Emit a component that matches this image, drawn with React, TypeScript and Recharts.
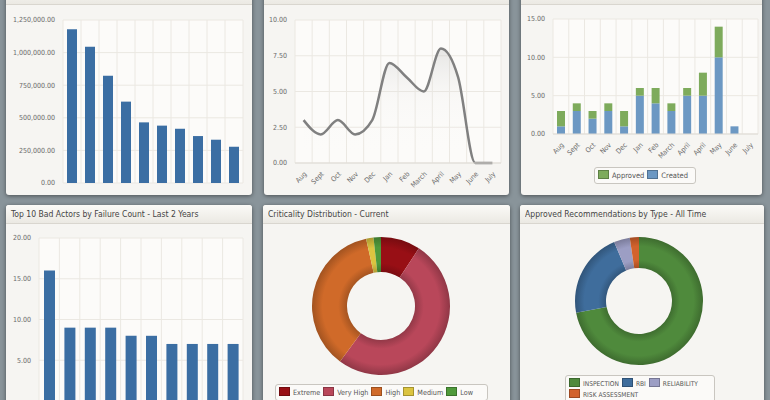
import React from "react";
import {
  Area,
  AreaChart,
  Bar,
  BarChart,
  CartesianGrid,
  Cell,
  Pie,
  PieChart,
  XAxis,
  YAxis,
} from "recharts";

// top-left: cost of bad actors
const costAssets = ["P-101", "C-204", "E-310", "P-115", "V-402", "T-220", "P-330", "C-118", "E-509", "V-211"];
const costValues = [1180000, 1045000, 823000, 624000, 465000, 440000, 416000, 360000, 332000, 278000];
const costTicks = [0, 250000, 500000, 750000, 1000000, 1250000];

// top-middle: projected completion
const months = ["Aug", "Sept", "Oct", "Nov", "Dec", "Jan", "Feb", "March", "April", "May", "June", "July"];
const projected = [3, 2, 3, 2, 3, 7, 6, 5, 8, 6, 0, 0];
const projectedTicks = [0, 2.5, 5, 7.5, 10];

// top-right: created vs approved
const recMonths = ["Aug", "Sept", "Oct", "Nov", "Dec", "Jan", "Feb", "March", "April", "April", "May", "June", "July"];
const created = [1, 3, 2, 3, 1, 5, 4, 3, 5, 5, 10, 1, 0];
const approved = [2, 1, 1, 1, 2, 1, 2, 1, 1, 3, 4, 0, 0];
const recTicks = [0, 5, 10, 15];

// bottom-left: failure count
const failureAssets = ["P-101", "C-204", "P-115", "E-310", "V-402", "T-220", "P-330", "C-118", "E-509", "V-211"];
const failureCounts = [16, 9, 9, 9, 8, 8, 7, 7, 7, 7];
const failureTicks = [0, 5, 10, 15, 20];

// bottom-middle: criticality
const criticalityLabels = ["Extreme", "Very High", "High", "Medium", "Low"];
const criticalityCounts = [16, 88, 63, 3, 3];
const criticalityColors = ["#980f15", "#b9475a", "#d06a29", "#dbc440", "#4f9a3b"];

// bottom-right: recommendation types
const typeLabels = ["INSPECTION", "RBI", "RELIABILITY", "RISK ASSESSMENT"];
const typeCounts = [250, 75, 14, 8];
const typeColors = ["#4f8a3c", "#3f6d9c", "#9c9ec4", "#d2622c"];

const costData = costAssets.map((name, i) => ({ name, value: costValues[i] }));
const projectedData = months.map((name, i) => ({ name, value: projected[i] }));
const recData = recMonths.map((name, i) => ({ name, created: created[i], approved: approved[i] }));
const failureData = failureAssets.map((name, i) => ({ name, value: failureCounts[i] }));
const criticalityData = criticalityLabels.map((name, i) => ({ name, value: criticalityCounts[i] }));
const typeData = typeLabels.map((name, i) => ({ name, value: typeCounts[i] }));

const FONT = '"DejaVu Sans Condensed", "DejaVu Sans", sans-serif';
const BAR_BLUE = "#3b6ea3";
const CREATED_BLUE = "#6c98c3";
const APPROVED_GREEN = "#7eab5c";
const GRID = "#ebe8e2";
const tick = { fill: "#6a6a6a", fontSize: 7 };

function money(v: number) {
  return v.toLocaleString("en-US", { minimumFractionDigits: 2, maximumFractionDigits: 2 });
}

function fixed(v: number) {
  return v.toFixed(2);
}

function darken(hex: string, k: number) {
  const n = parseInt(hex.slice(1), 16);
  const c = [(n >> 16) & 255, (n >> 8) & 255, n & 255].map((x) => Math.round(x * k));
  return `rgb(${c[0]},${c[1]},${c[2]})`;
}

// vertical grid lines sit between categories, not on them
const bandLines = (n: number) => (props: any) => {
  const o = props.offset;
  return Array.from({ length: n + 1 }, (_, i) => o.left + (o.width * i) / n);
};

// ring shading: darker at the inner and outer rims
function RingGradients({ prefix, colors, cx, cy, r, inner }: { prefix: string; colors: string[]; cx: number; cy: number; r: number; inner: number }) {
  const f = inner / r;
  return (
    <defs>
      {colors.map((c, i) => (
        <radialGradient key={i} id={`${prefix}${i}`} gradientUnits="userSpaceOnUse" cx={cx} cy={cy} r={r}>
          <stop offset={f} stopColor={darken(c, 0.8)} />
          <stop offset={f + (1 - f) * 0.25} stopColor={c} />
          <stop offset={f + (1 - f) * 0.7} stopColor={c} />
          <stop offset={1} stopColor={darken(c, 0.78)} />
        </radialGradient>
      ))}
    </defs>
  );
}

function Panel({ left, top, width, height, title }: { left: number; top: number; width: number; height: number; title: string }) {
  return (
    <div
      style={{
        position: "absolute",
        left,
        top,
        width,
        height,
        background: "#f6f5f2",
        borderRadius: 3,
        boxShadow: "0 1px 4px rgba(0,0,0,0.45)",
        overflow: "hidden",
      }}
    >
      <div
        style={{
          height: 18,
          lineHeight: "18px",
          padding: "0 0 0 5px",
          fontSize: 9.5,
          color: "#444",
          background: "linear-gradient(#fbfaf7, #ebe9e3)",
          borderBottom: "1px solid #d9d6cf",
          whiteSpace: "nowrap",
        }}
      >
        <span style={{ display: "inline-block", transform: "scaleX(0.9)", transformOrigin: "left center" }}>{title}</span>
      </div>
    </div>
  );
}

function Swatch({ color }: { color: string }) {
  return (
    <span
      style={{
        display: "inline-block",
        width: 9,
        height: 7,
        marginRight: 3,
        background: color,
        border: "1px solid rgba(0,0,0,0.25)",
        verticalAlign: "-1px",
      }}
    />
  );
}

function LegendBox({ left, top, width, items, colors, size, wrap }: { left: number; top: number; width: number; items: string[]; colors: string[]; size: number; wrap?: boolean }) {
  return (
    <div
      style={{
        position: "absolute",
        left,
        top,
        width,
        padding: "2px 3px",
        boxSizing: "border-box",
        border: "1px solid #c9c6c0",
        borderRadius: 3,
        background: "#fbfaf8",
        fontSize: size,
        color: "#555",
        lineHeight: "10px",
        whiteSpace: wrap ? "normal" : "nowrap",
        overflow: "hidden",
      }}
    >
      {items.map((label, i) => (
        <span key={label} style={{ marginRight: 3, whiteSpace: "nowrap", display: "inline-block" }}>
          <Swatch color={colors[i]} />
          {label}
        </span>
      ))}
    </div>
  );
}

const CRIT_W = 236;
const CRIT_H = 164;
const TYPE_W = 238;
const TYPE_H = 154;

export default function App() {
  return (
    <div
      style={{
        position: "absolute",
        left: 0,
        top: 0,
        width: 770,
        height: 400,
        overflow: "hidden",
        background: "#89949a",
        fontFamily: FONT,
      }}
    >
      <Panel left={6} top={-14} width={246} height={209} title="Top 10 Bad Actors by Total Cost - Last 2 Years" />
      <Panel left={264} top={-14} width={245} height={209} title="Recommendations Projected Completion - 12 Months" />
      <Panel left={521} top={-14} width={241} height={209} title="Recommendations Created and Approved - 12 Months" />
      <Panel left={6} top={205} width={246} height={210} title="Top 10 Bad Actors by Failure Count - Last 2 Years" />
      <Panel left={263} top={205} width={247} height={210} title="Criticality Distribution - Current" />
      <Panel left={520} top={205} width={244} height={210} title="Approved Recommendations by Type - All Time" />

      <div style={{ position: "absolute", left: 6, top: 5 }}>
        <BarChart width={246} height={190} data={costData} margin={{ top: 15, right: 9, bottom: 12, left: 0 }}>
          <CartesianGrid stroke={GRID} fill="#fcfbf9" verticalCoordinatesGenerator={bandLines(costData.length)} />
          <XAxis dataKey="name" hide />
          <YAxis width={57} domain={[0, 1250000]} ticks={costTicks} tickFormatter={money} tick={tick} axisLine={false} tickLine={false} />
          <Bar dataKey="value" fill={BAR_BLUE} barSize={10} isAnimationActive={false} />
        </BarChart>
      </div>

      <div style={{ position: "absolute", left: 264, top: 5 }}>
        <AreaChart width={245} height={190} data={projectedData} margin={{ top: 15, right: 8, bottom: 2, left: 0 }}>
          <defs>
            <linearGradient id="projFill" x1="0" y1="0" x2="0" y2="1">
              <stop offset="0%" stopColor="#b9b9b9" stopOpacity={0.55} />
              <stop offset="45%" stopColor="#e6e6e6" stopOpacity={0.2} />
              <stop offset="100%" stopColor="#ffffff" stopOpacity={0} />
            </linearGradient>
          </defs>
          <CartesianGrid stroke={GRID} fill="#fcfbf9" verticalCoordinatesGenerator={bandLines(projectedData.length)} />
          <XAxis
            dataKey="name"
            scale="band"
            height={30}
            interval={0}
            angle={-45}
            textAnchor="end"
            tick={tick}
            axisLine={{ stroke: "#dedbd5" }}
            tickLine={false}
          />
          <YAxis width={31} domain={[0, 10]} ticks={projectedTicks} tickFormatter={fixed} tick={tick} axisLine={false} tickLine={false} />
          <Area
            type="monotone"
            dataKey="value"
            stroke="#808080"
            strokeWidth={2.5}
            fill="url(#projFill)"
            dot={false}
            isAnimationActive={false}
          />
        </AreaChart>
      </div>

      <div style={{ position: "absolute", left: 521, top: 5 }}>
        <BarChart width={241} height={190} data={recData} margin={{ top: 14, right: 4, bottom: 39, left: 0 }}>
          <CartesianGrid stroke={GRID} fill="#fcfbf9" verticalCoordinatesGenerator={bandLines(recData.length)} />
          <XAxis
            dataKey="name"
            height={22}
            interval={0}
            angle={-45}
            textAnchor="end"
            tick={tick}
            axisLine={{ stroke: "#dedbd5" }}
            tickLine={false}
          />
          <YAxis width={32} domain={[0, 15]} ticks={recTicks} tickFormatter={fixed} tick={tick} axisLine={false} tickLine={false} />
          <Bar dataKey="created" stackId="r" fill={CREATED_BLUE} barSize={8} isAnimationActive={false} />
          <Bar dataKey="approved" stackId="r" fill={APPROVED_GREEN} barSize={8} isAnimationActive={false} />
        </BarChart>
      </div>
      <LegendBox left={594} top={167} width={102} items={["Approved", "Created"]} colors={[APPROVED_GREEN, CREATED_BLUE]} size={7.5} />

      <div style={{ position: "absolute", left: 6, top: 224 }}>
        <BarChart width={246} height={180} data={failureData} margin={{ top: 14, right: 9, bottom: 3, left: 0 }}>
          <CartesianGrid stroke={GRID} fill="#fcfbf9" verticalCoordinatesGenerator={bandLines(failureData.length)} />
          <XAxis dataKey="name" hide />
          <YAxis width={33} domain={[0, 20]} ticks={failureTicks} tickFormatter={fixed} tick={tick} axisLine={false} tickLine={false} />
          <Bar dataKey="value" fill={BAR_BLUE} barSize={11} isAnimationActive={false} />
        </BarChart>
      </div>

      <div style={{ position: "absolute", left: 263, top: 224 }}>
        <PieChart width={CRIT_W} height={CRIT_H}>
          <RingGradients prefix="crit" colors={criticalityColors} cx={CRIT_W / 2} cy={CRIT_H / 2} r={69} inner={34} />
          <Pie
            data={criticalityData}
            dataKey="value"
            nameKey="name"
            innerRadius={34}
            outerRadius={69}
            startAngle={90}
            endAngle={-270}
            stroke="none"
            isAnimationActive={false}
          >
            {criticalityData.map((d, i) => (
              <Cell key={d.name} fill={`url(#crit${i})`} />
            ))}
          </Pie>
        </PieChart>
      </div>
      <LegendBox left={275} top={384} width={213} items={criticalityLabels} colors={criticalityColors} size={7.2} />

      <div style={{ position: "absolute", left: 520, top: 224 }}>
        <PieChart width={TYPE_W} height={TYPE_H}>
          <RingGradients prefix="type" colors={typeColors} cx={TYPE_W / 2} cy={TYPE_H / 2} r={64} inner={33} />
          <Pie
            data={typeData}
            dataKey="value"
            nameKey="name"
            innerRadius={33}
            outerRadius={64}
            startAngle={90}
            endAngle={-270}
            stroke="none"
            isAnimationActive={false}
          >
            {typeData.map((d, i) => (
              <Cell key={d.name} fill={`url(#type${i})`} />
            ))}
          </Pie>
        </PieChart>
      </div>
      <LegendBox left={565} top={375} width={150} items={typeLabels} colors={typeColors} size={6.6} wrap />
    </div>
  );
}
